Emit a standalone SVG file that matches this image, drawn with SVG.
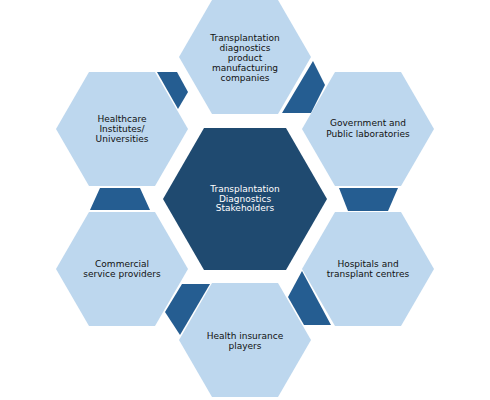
<svg xmlns="http://www.w3.org/2000/svg" xmlns:xlink="http://www.w3.org/1999/xlink" width="490" height="400" viewBox="0 0 490 400">
<style>
.hex{fill:#BDD7EE}
.core{fill:#1F4A70}
.con{fill:#255D91}
text{font-family:"DejaVu Sans",Verdana,sans-serif;font-size:9px;text-anchor:middle;fill:#111}
.core-t{fill:#ffffff}
</style>
<defs>
<polygon id="hx" points="66,0 33,57 -33,57 -66,0 -33,-57 33,-57"/>
</defs>
<rect width="490" height="400" fill="#ffffff"/>
<g id="connectors">
<polygon class="con" points="313,61 325,85 311,113 282,113"/>
<polygon class="con" points="339,188 398,188 388,211 348,211"/>
<polygon class="con" points="302,271 331,325 304,325 288,297"/>
<polygon class="con" points="182,284 210,284 180,335 165,312"/>
<polygon class="con" points="100,188 140,188 150,210 90,210"/>
<polygon class="con" points="157,72 177,72 188,92 178,109"/>
</g>
<g id="center">
<polygon class="core" points="327,199 286,270 204,270 163,199 204,128 286,128"/>
<text class="core-t" x="245" y="192">Transplantation</text>
<text class="core-t" x="245" y="202">Diagnostics</text>
<text class="core-t" x="245" y="211">Stakeholders</text>
</g>
<g id="manufacturers">
<use href="#hx" class="hex" x="245" y="57"/>
<text x="245" y="41">Transplantation</text>
<text x="245" y="51">diagnostics</text>
<text x="245" y="61">product</text>
<text x="245" y="71">manufacturing</text>
<text x="245" y="81">companies</text>
</g>
<g id="government">
<use href="#hx" class="hex" x="368" y="129"/>
<text x="368" y="126">Government and</text>
<text x="368" y="136.5">Public laboratories</text>
</g>
<g id="hospitals">
<use href="#hx" class="hex" x="368" y="269"/>
<text x="368" y="266.5">Hospitals and</text>
<text x="368" y="277">transplant centres</text>
</g>
<g id="insurance">
<use href="#hx" class="hex" x="245" y="340"/>
<text x="245" y="339">Health insurance</text>
<text x="245" y="349">players</text>
</g>
<g id="commercial">
<use href="#hx" class="hex" x="122" y="269"/>
<text x="122" y="266.5">Commercial</text>
<text x="122" y="277">service providers</text>
</g>
<g id="healthcare">
<use href="#hx" class="hex" x="122" y="129"/>
<text x="122" y="121.5">Healthcare</text>
<text x="122" y="131.5">Institutes/</text>
<text x="122" y="141.5">Universities</text>
</g>
</svg>
